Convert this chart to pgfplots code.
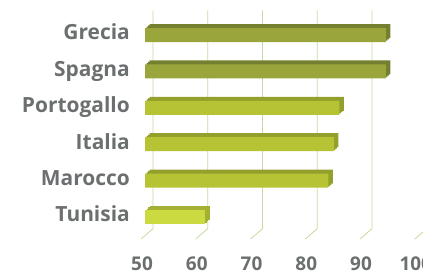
\documentclass[border=0pt]{standalone}
\usepackage{fontspec}
\setmainfont{Open Sans}
\usepackage{pgfplots}
\usepackage{pgfplotstable}
\pgfplotsset{compat=1.18}
\definecolor{gridc}{HTML}{C3DB9C}
\definecolor{txt}{HTML}{6B6F70}
\definecolor{gA}{HTML}{9AA53B}
\definecolor{gAd}{HTML}{74802F}
\definecolor{gB}{HTML}{B6C335}
\definecolor{gBd}{HTML}{93A02C}
\definecolor{gC}{HTML}{CBDA41}
\definecolor{gCd}{HTML}{A3B033}

\pgfplotstableread{
idx val
5 94
4 94
}\tA
\pgfplotstableread{
idx val
3 85.5
2 84.5
1 83.5
}\tB
\pgfplotstableread{
idx val
0 61
}\tC

\begin{document}
\begin{tikzpicture}
\begin{axis}[
  at={(145bp,36.8bp)}, anchor=south west,
  scale only axis, width=273.75bp, height=218.4bp,
  xmin=0, xmax=50, ymin=-0.5, ymax=5.5,
  axis line style={draw=none},
  major tick length=0pt,
  clip=false,
  xbar, bar width=14bp,
  /pgf/number format/assume math mode=true,
  xtick={0,10,20,30,40,50}, xticklabels={50,60,70,80,90,100},
  ytick={0,1,2,3,4,5}, yticklabels={Tunisia,Marocco,Italia,Portogallo,Spagna,Grecia},
  xticklabel style={anchor=base, inner sep=0pt, xshift=-3bp, yshift=-35.2bp,
    font=\fontsize{19}{20}\selectfont\bfseries, text=txt},
  yticklabel style={anchor=base east, inner sep=0pt, xshift=-15bp, yshift=-4.8bp,
    font=\fontsize{21}{22}\selectfont\bfseries, text=txt},
]
\pgfplotsinvokeforeach{0,10,20,30,40,50}{
  \draw[gridc, line width=0.8bp] ([shift={(8bp,6.5bp)}]axis cs:#1,5.5) -- ([shift={(8bp,6.5bp)}]axis cs:#1,-0.5) -- ([shift={(-4bp,-3.8bp)}]axis cs:#1,-0.5);
}
% depth (top/side faces)
\addplot[fill=gAd, draw=none, bar shift=1.33bp, xshift=1.5bp] table[x expr=\thisrow{val}-50, y=idx]{\tA};
\addplot[fill=gAd, draw=none, bar shift=2.67bp, xshift=3bp] table[x expr=\thisrow{val}-50, y=idx]{\tA};
\addplot[fill=gAd, draw=none, bar shift=4bp, xshift=4.5bp] table[x expr=\thisrow{val}-50, y=idx]{\tA};
\addplot[fill=gBd, draw=none, bar shift=1.33bp, xshift=1.5bp] table[x expr=\thisrow{val}-50, y=idx]{\tB};
\addplot[fill=gBd, draw=none, bar shift=2.67bp, xshift=3bp] table[x expr=\thisrow{val}-50, y=idx]{\tB};
\addplot[fill=gBd, draw=none, bar shift=4bp, xshift=4.5bp] table[x expr=\thisrow{val}-50, y=idx]{\tB};
\addplot[fill=gCd, draw=none, bar shift=1.33bp, xshift=1.5bp] table[x expr=\thisrow{val}-50, y=idx]{\tC};
\addplot[fill=gCd, draw=none, bar shift=2.67bp, xshift=3bp] table[x expr=\thisrow{val}-50, y=idx]{\tC};
\addplot[fill=gCd, draw=none, bar shift=4bp, xshift=4.5bp] table[x expr=\thisrow{val}-50, y=idx]{\tC};
% front faces
\addplot[fill=gA, draw=none, bar shift=0pt] table[x expr=\thisrow{val}-50, y=idx]{\tA};
\addplot[fill=gB, draw=none, bar shift=0pt] table[x expr=\thisrow{val}-50, y=idx]{\tB};
\addplot[fill=gC, draw=none, bar shift=0pt] table[x expr=\thisrow{val}-50, y=idx]{\tC};
\end{axis}
\pgfresetboundingbox
\useasboundingbox (0,0) rectangle (423bp,272bp);
\end{tikzpicture}
\end{document}
